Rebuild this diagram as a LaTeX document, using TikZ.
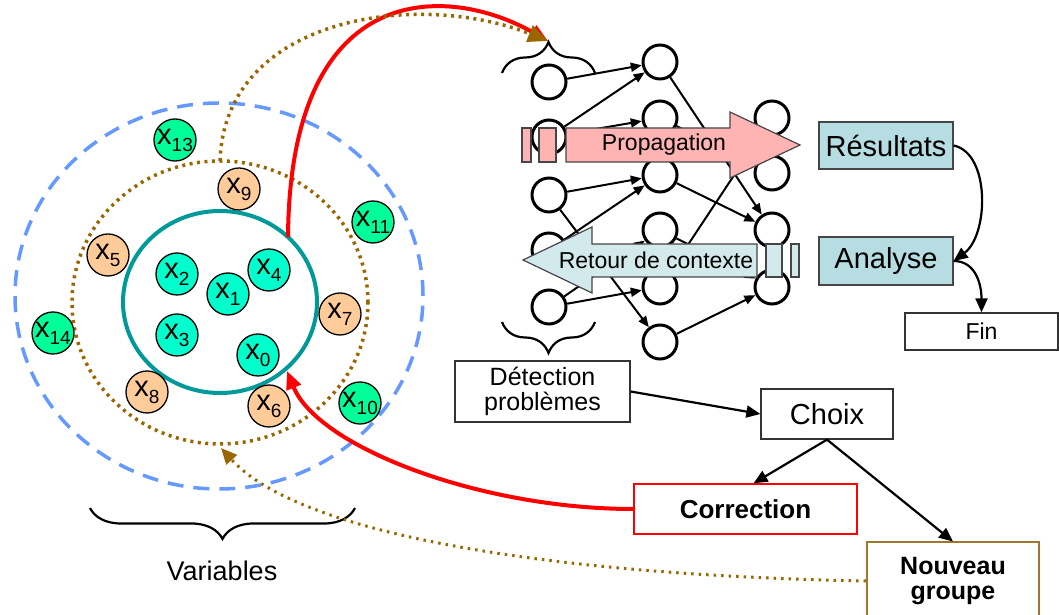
\documentclass[tikz,border=0pt]{standalone}
\usepackage{fontspec}
\setmainfont{Liberation Sans}
\usetikzlibrary{arrows.meta,decorations.pathreplacing,calc}
\definecolor{bluedash}{RGB}{102,153,255}
\definecolor{brownd}{RGB}{153,102,0}
\definecolor{ngbrown}{RGB}{160,120,45}
\definecolor{tealc}{RGB}{0,153,153}
\definecolor{greenc}{RGB}{0,255,153}
\definecolor{cyanc}{RGB}{0,255,204}
\definecolor{orangec}{RGB}{255,204,153}
\definecolor{pinkf}{RGB}{255,179,179}
\definecolor{retourf}{RGB}{210,234,236}
\definecolor{resf}{RGB}{182,222,226}
\definecolor{bordg}{RGB}{70,70,70}
\newcommand{\myfs}[2]{\fontsize{#1}{#2}\selectfont}
\newcommand{\xlab}[1]{x\raisebox{-7pt}{\myfs{19}{19}#1}}
\tikzset{
  xbase/.style={circle, draw=black, line width=1.3pt, minimum size=42pt, inner sep=0pt, font=\myfs{29}{29}},
  xg/.style={xbase, fill=greenc},
  xc/.style={xbase, fill=cyanc},
  xo/.style={xbase, fill=orangec},
  nn/.style={circle, draw=black, line width=3pt, minimum size=34pt, inner sep=0pt, fill=white},
  edge/.style={line width=2pt, -{Triangle[length=11pt,width=9pt]}},
  conn/.style={line width=2.2pt, -{Triangle[length=14pt,width=12pt]}},
  bigarrow/.style={draw=bordg, line width=1.2pt},
  resbox/.style={rectangle, draw=bordg, line width=1.3pt, fill=resf, inner sep=0pt, font=\myfs{29}{29}},
  plainbox/.style={rectangle, draw=black!80, line width=1.3pt, fill=white, inner sep=0pt, align=center},
  mybrace/.style={decorate, line width=2.2pt, decoration={brace, amplitude=31pt}},
  reddraw/.style={draw=red, line width=4pt, -{Triangle[length=18pt,width=15pt]}},
  browndot/.style={draw=brownd, line width=3.5pt, dash pattern=on 3pt off 4.5pt},
}
\begin{document}
\begin{tikzpicture}[x=1pt,y=1pt]
\useasboundingbox (0,0) rectangle (1059,615);

% variable clusters
\draw[bluedash, line width=3.5pt, dash pattern=on 16pt off 10pt] (219,319) ellipse [x radius=204, y radius=193];
\draw[browndot] (220,312.5) ellipse [x radius=148, y radius=141.5];
\draw[tealc, line width=4pt] (220,313) ellipse [x radius=97, y radius=91];

\coordinate (ellTop) at (220,454);
\coordinate (ellBot) at (221,167);
\coordinate (tealA) at (288,378);
\coordinate (tealB) at (287,244);

\node[xg] (x13) at (175,475) {\xlab{13}};
\node[xo] (x9) at (239,426) {\xlab{9}};
\node[xg] (x11) at (373,393) {\xlab{11}};
\node[xo] (x5) at (108,360) {\xlab{5}};
\node[xc] (x2) at (177,341) {\xlab{2}};
\node[xc] (x1) at (228,321) {\xlab{1}};
\node[xc] (x4) at (269,345) {\xlab{4}};
\node[xo] (x7) at (340,301) {\xlab{7}};
\node[xg] (x14) at (53,282) {\xlab{14}};
\node[xc] (x3) at (177,280) {\xlab{3}};
\node[xc] (x0) at (258,260) {\xlab{0}};
\node[xo] (x8) at (147,223) {\xlab{8}};
\node[xo] (x6) at (269,209) {\xlab{6}};
\node[xg] (x10) at (360,212) {\xlab{10}};

% Variables brace
\coordinate (vbR) at (355,107);
\coordinate (vbL) at (90,107);
\draw[mybrace] (vbR) -- (vbL);
\node[font=\myfs{27}{27}] (vars) at (222,44) {Variables};

% neural network
\node[nn] (a1) at (549,533) {};
\node[nn] (a2) at (549,478) {};
\node[nn] (a3) at (549,420) {};
\node[nn] (a4) at (549,365) {};
\node[nn] (a5) at (549,308) {};
\node[nn] (b1) at (660,553) {};
\node[nn] (b2) at (660,497) {};
\node[nn] (b3) at (660,440) {};
\node[nn] (b4) at (660,385) {};
\node[nn] (b5) at (660,328) {};
\node[nn] (b6) at (660,273) {};
\node[nn] (c1) at (772,497) {};
\node[nn] (c2) at (772,442) {};
\node[nn] (c3) at (772,385) {};
\node[nn] (c4) at (772,328) {};

\foreach \s/\t in {a1/b1,a2/b1,a2/b2,a3/b3,a3/b6,a4/b3,a5/b4,a5/b5,b1/c3,b2/c2,b3/c3,b4/c4,b5/c1,b6/c4}
  \draw[edge] (\s) -- (\t);

\coordinate (tbL) at (502,542);
\coordinate (tbR) at (595,542);
\draw[mybrace] (tbL) -- (tbR);
\coordinate (braceTip) at (548,574);
\coordinate (bbL) at (502,293);
\coordinate (bbR) at (595,293);
\draw[mybrace] (bbR) -- (bbL);

% Propagation arrow
\draw[bigarrow, fill=pinkf] (566,453) -- (730,453) -- (730,437) -- (800,470) -- (730,503) -- (730,487) -- (566,487) -- cycle;
\draw[bigarrow, fill=pinkf] (522,453) rectangle (531,487);
\draw[bigarrow, fill=pinkf] (539,453) rectangle (556,487);
\node[font=\myfs{23}{23}] (prop) at (664,470) {Propagation};

% Retour arrow
\draw[bigarrow, fill=retourf] (757,338) -- (592,338) -- (592,322) -- (523,355) -- (592,388) -- (592,371) -- (757,371) -- cycle;
\draw[bigarrow, fill=retourf] (766,338) rectangle (782,371);
\draw[bigarrow, fill=retourf] (791,338) rectangle (799,371);
\node[font=\myfs{23}{23}] (ret) at (656,355) {Retour de contexte};

% boxes
\node[resbox, minimum width=134pt, minimum height=47pt] (res) at (886,469.5) {Résultats};
\node[resbox, minimum width=134pt, minimum height=48pt] (ana) at (886,354) {Analyse};
\node[plainbox, minimum width=153pt, minimum height=37pt, font=\myfs{23}{23}] (fin) at (981.5,283.5) {Fin};
\node[plainbox, minimum width=175pt, minimum height=61pt, font=\myfs{25}{25}] (det) at (542.5,223.5) {Détection\\problèmes};
\node[plainbox, minimum width=132pt, minimum height=50pt, font=\myfs{29}{29}] (choix) at (827,201) {Choix};
\node[plainbox, draw=red, minimum width=223pt, minimum height=50pt, font=\myfs{26}{26}\bfseries] (corr) at (745.5,106) {Correction};
\node[plainbox, draw=ngbrown, line width=2pt, minimum width=172pt, minimum height=77pt, font=\myfs{25}{25}\bfseries] (ng) at (953,34) {Nouveau\\groupe};

% connectors
\draw[conn] (res.east) .. controls +(37,-8) and +(35,26) .. (ana.east);
\draw[conn] (ana.east) .. controls +(22,0) and +(0,28) .. (fin.north);
\draw[conn] (det.east) -- (choix.west);
\draw[conn] (choix.south) -- ([xshift=8pt]corr.north);
\draw[conn] (choix.south) -- (ng.north);

% red arrows
\draw[reddraw] (tealA) .. controls (290,640) and (450,630) .. (braceTip);
\draw[reddraw] (corr.west) .. controls (480,106) and (318,168) .. (tealB);

% brown dotted arrows
\draw[browndot, -{Triangle[length=20pt,width=17pt]}] (ellTop) .. controls (225,600) and (420,625) .. (braceTip);
\draw[browndot, line width=3pt, dash pattern=on 2.5pt off 5pt, -{Triangle[length=16pt,width=14pt]}] (ng.west) .. controls (550,40) and (300,80) .. (ellBot);
\end{tikzpicture}
\end{document}
